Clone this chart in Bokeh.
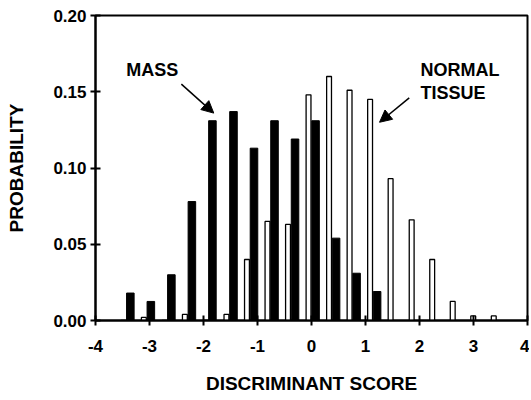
from bokeh.plotting import figure
from bokeh.models import Arrow, NormalHead, FixedTicker, PrintfTickFormatter, Range1d
from bokeh.core.properties import value
from bokeh.embed import file_html
from bokeh.resources import INLINE

# Bin centres of discriminant score
bin_centers = [-3.43, -3.05, -2.67, -2.29, -1.91, -1.52, -1.14, -0.76, -0.38, 0.0,
               0.38, 0.76, 1.14, 1.52, 1.91, 2.29, 2.67, 3.05, 3.43]
# Probability for MASS (black bars)
mass = [0.018, 0.0125, 0.030, 0.078, 0.131, 0.137, 0.113, 0.131, 0.119, 0.131,
        0.054, 0.031, 0.019, 0.0, 0.0, 0.0, 0.0, 0.0, 0.0]
# Probability for NORMAL TISSUE (white bars)
normal = [0.0, 0.002, 0.0, 0.004, 0.0, 0.004, 0.040, 0.065, 0.063, 0.148,
          0.160, 0.151, 0.145, 0.093, 0.066, 0.040, 0.0125, 0.003, 0.003]
x_ticks = [-4, -3, -2, -1, 0, 1, 2, 3, 4]
x_tick_labels = ["-4", "-3", "-2", "-1", "0", "1", "2", "3", "4"]
y_ticks = [0.0, 0.05, 0.10, 0.15, 0.20]

FONT = "Liberation Sans"

p = figure(width=529, height=398, output_backend="svg", toolbar_location=None,
           x_range=Range1d(-4, 4), y_range=Range1d(0, 0.20),
           min_border_left=95, min_border_right=2, min_border_top=15, min_border_bottom=78)
p.xgrid.visible = False
p.ygrid.visible = False
p.outline_line_color = "black"
p.outline_line_width = 2
p.background_fill_color = "white"
p.border_fill_color = "white"

white_x = [c - 0.055 for c in bin_centers]
black_x = [c + 0.075 for c in bin_centers]
p.vbar(x=white_x, top=normal, bottom=0, width=0.09, fill_color="white",
       line_color="black", line_width=1.3)
p.vbar(x=black_x, top=mass, bottom=0, width=0.14, fill_color="black",
       line_color="black", line_width=1)

for ax in (p.xaxis[0], p.yaxis[0]):
    ax.axis_line_width = 2
    ax.axis_line_color = "black"
    ax.major_tick_line_width = 2
    ax.major_tick_in = 5
    ax.major_tick_out = 5
    ax.minor_tick_line_color = None
    ax.major_label_text_font = FONT
    ax.major_label_text_font_style = "bold"
    ax.major_label_text_font_size = "17px"
    ax.major_label_text_color = "black"
    ax.axis_label_text_font = FONT
    ax.axis_label_text_font_style = "bold"
    ax.axis_label_text_font_size = "19px"
    ax.axis_label_text_color = "black"

p.xaxis.ticker = FixedTicker(ticks=x_ticks)
p.xaxis.major_label_overrides = {t: lab for t, lab in zip(x_ticks, x_tick_labels)}
p.yaxis.ticker = FixedTicker(ticks=y_ticks)
p.yaxis.formatter = PrintfTickFormatter(format="%.2f")
p.xaxis.axis_label = "DISCRIMINANT SCORE"
p.yaxis.axis_label = "PROBABILITY"
p.xaxis.major_label_standoff = 14
p.yaxis.major_label_standoff = 4
p.xaxis.axis_label_standoff = 18
p.yaxis.axis_label_standoff = 23

p.text(x=[-2.95], y=[0.164], text=["MASS"], text_font=value(FONT),
       text_font_style="bold", text_font_size="18px", text_align="center",
       text_baseline="middle", text_color="black")
p.text(x=[2.02, 2.02], y=[0.164, 0.149], text=["NORMAL", "TISSUE"], text_font=value(FONT),
       text_font_style="bold", text_font_size="18px", text_align="left",
       text_baseline="middle", text_color="black")

p.add_layout(Arrow(end=NormalHead(size=12, fill_color="black", line_color="black"),
                   x_start=-2.41, y_start=0.155, x_end=-1.81, y_end=0.136,
                   line_width=1.5, line_color="black"))
p.add_layout(Arrow(end=NormalHead(size=12, fill_color="black", line_color="black"),
                   x_start=1.81, y_start=0.146, x_end=1.26, y_end=0.130,
                   line_width=1.5, line_color="black"))

open("out.html", "w").write(file_html(p, INLINE))
